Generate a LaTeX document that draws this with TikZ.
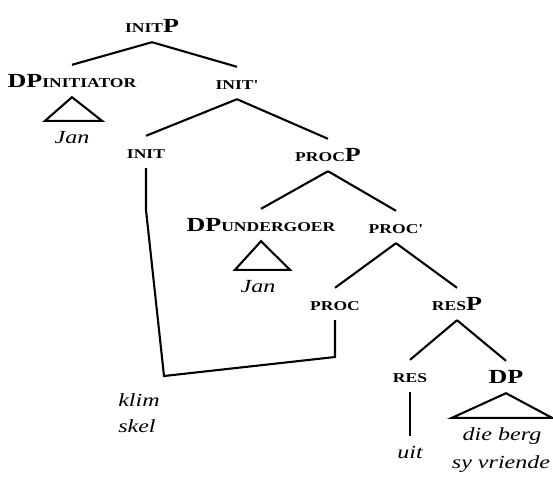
\documentclass[tikz,border=0pt]{standalone}
\usepackage{fontspec}
\setmainfont{Liberation Serif}
\usepackage{tikz}
\usetikzlibrary{positioning,calc}
\tikzstyle{cat} = [anchor=base, xscale=1.3, font=\fontsize{20}{24}\selectfont\bfseries, text height=16pt, text depth=4pt, inner xsep=0pt, inner ysep=6pt]
\tikzstyle{lex} = [anchor=base, xscale=1.3, font=\fontsize{18.5}{22}\selectfont\itshape, text height=16pt, text depth=4pt, inner xsep=0pt, inner ysep=6pt]
\tikzstyle{branch} = [line width=2.1pt]
\newcommand{\fsc}[1]{{\fontsize{13.5}{15}\selectfont #1}}

\begin{document}
\begin{tikzpicture}[x=1pt, y=-1pt]
    \useasboundingbox (0,0) rectangle (553,477);
    % Nodes
    \node[cat] (initp) at (152,32) {\fsc{INIT}P};
    \node[cat] (dpi) at (72,87) {DP\fsc{INITIATOR}};
    \node[cat] (initbar) at (237,89) {\fsc{INIT\textquotesingle}};
    \node[lex] (jani) at (72,143) {Jan};
    \node[cat] (init) at (146,158) {\fsc{INIT}};
    \node[cat] (procp) at (328,161) {\fsc{PROC}P};
    \node[cat] (dpu) at (261,231) {DP\fsc{UNDERGOER}};
    \node[cat] (procbar) at (396,233) {\fsc{PROC\textquotesingle}};
    \node[lex] (janu) at (258,292) {Jan};
    \node[cat] (proc) at (335,310) {\fsc{PROC}};
    \node[cat] (resp) at (457,310) {\fsc{RES}P};
    \node[cat] (res) at (410,382) {\fsc{RES}};
    \node[cat] (dp) at (506,383) {DP};
    \node[lex] (uit) at (410,458) {uit};
    \node[lex] (dieberg) at (502,440) {die berg};
    \node[lex] (syvriende) at (501,468) {sy vriende};
    \node[lex, anchor=base west] (klim) at (118,406) {klim};
    \node[lex, anchor=base west] (skel) at (118,432) {skel};
    % Branches
    \draw[branch] (initp.south) -- (dpi.north);
    \draw[branch] (initp.south) -- (initbar.north);
    \draw[branch] (initbar.south) -- (init.north);
    \draw[branch] (initbar.south) -- (procp.north);
    \draw[branch] (procp.south) -- (dpu.north);
    \draw[branch] (procp.south) -- (procbar.north);
    \draw[branch] (procbar.south) -- (proc.north);
    \draw[branch] (procbar.south) -- (resp.north);
    \draw[branch] (resp.south) -- (res.north);
    \draw[branch] (resp.south) -- (dp.north);
    \draw[branch] (res.south) -- (uit.north);
    % Triangles
    \draw[branch] (dpi.south) -- ($(jani.north)+(-27,0)$) -- ($(jani.north)+(30,0)$) -- cycle;
    \draw[branch] (dpu.south) -- ($(janu.north)+(-23,0)$) -- ($(janu.north)+(32,0)$) -- cycle;
    \draw[branch] (dp.south) -- ($(dieberg.north)+(-50,0)$) -- ($(dieberg.north)+(50,0)$) -- cycle;
    % Movement line
    \coordinate (kink) at (146,210);
    \coordinate (corner) at (164,376);
    \coordinate (procfoot) at (335,357);
    \draw[branch] (init.south) -- (kink) -- (corner) -- (procfoot) -- (proc.south);
\end{tikzpicture}
\end{document}
